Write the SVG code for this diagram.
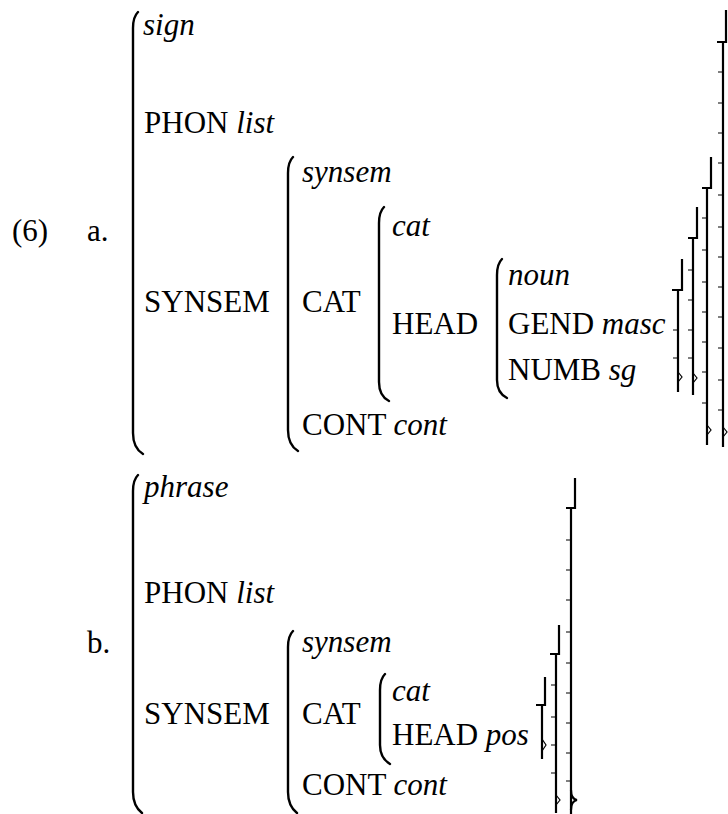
<svg xmlns="http://www.w3.org/2000/svg" width="728" height="814" viewBox="0 0 728 814">
<style>
text{font-family:"Liberation Serif","Times New Roman",serif;font-size:31px;fill:#000}
.i{font-style:italic}
.lb{fill:none;stroke:#000;stroke-width:2.4;stroke-linecap:round}
.rb{fill:none;stroke:#000;stroke-width:2.2}
.tk{fill:none;stroke:#000;stroke-width:1.2}
</style>
<rect width="728" height="814" fill="#fff"/>
<g id="labels">
<text x="12" y="241">(6)</text>
<text x="87" y="241">a.</text>
<text x="87" y="653">b.</text>
</g>
<g id="avm-a">
<path class="lb" d="M138,12 Q133,17 133,28 V433 Q133,448 143,454"/>
<text x="143" y="35" class="i">sign</text>
<text x="144" y="133">PHON <tspan class="i">list</tspan></text>
<text x="144" y="312">SYNSEM</text>
<g id="a-synsem">
<path class="lb" d="M293,157 Q288,162 288,173 V430 Q288,445 298,451"/>
<text x="302" y="182" class="i">synsem</text>
<text x="302" y="312">CAT</text>
<text x="302" y="435">CONT <tspan class="i">cont</tspan></text>
</g>
<g id="a-cat">
<path class="lb" d="M384,207 Q379,212 379,223 V382 Q379,396 389,401"/>
<text x="392" y="236" class="i">cat</text>
<text x="392" y="334">HEAD</text>
</g>
<g id="a-noun">
<path class="lb" d="M502,259 Q497,264 497,275 V380 Q497,393 507,398"/>
<text x="508" y="285" class="i">noun</text>
<text x="508" y="334">GEND <tspan class="i">masc</tspan></text>
<text x="508" y="380">NUMB <tspan class="i">sg</tspan></text>
</g>
</g>
<g id="brackets-a">
<path class="rb" d="M682,259 V290 H672 M678,290 V392"/>
<path class="tk" d="M673,330 H678 M673,358 H678 M678,372 L682,377 L678,382"/>
<path class="rb" d="M697,207 V238 H688 M693,238 V395"/>
<path class="tk" d="M688,270 H693 M688,300 H693 M688,330 H693 M688,358 H693 M693,373 L697,378 L693,383"/>
<path class="rb" d="M711,157 V188 H702 M707,188 V445"/>
<path class="tk" d="M702,218 H707 M702,250 H707 M702,282 H707 M702,312 H707 M702,342 H707 M702,372 H707 M702,403 H707 M707,425 L711,430 L707,435"/>
<path class="rb" d="M726,10 V42 H717 M723,42 V447"/>
<path class="tk" d="M718,72 H723 M718,103 H723 M718,133 H723 M718,163 H723 M718,195 H723 M718,227 H723 M718,257 H723 M718,287 H723 M718,317 H723 M718,348 H723 M718,380 H723 M718,410 H723 M723,427 L727,432 L723,437"/>
</g>
<g id="avm-b">
<path class="lb" d="M138,475 Q133,480 133,491 V792 Q133,806 142,813"/>
<text x="144" y="497" class="i">phrase</text>
<text x="144" y="603">PHON <tspan class="i">list</tspan></text>
<text x="144" y="724">SYNSEM</text>
<g id="b-synsem">
<path class="lb" d="M293,631 Q288,636 288,647 V792 Q288,806 297,813"/>
<text x="302" y="652" class="i">synsem</text>
<text x="302" y="724">CAT</text>
<text x="302" y="795">CONT <tspan class="i">cont</tspan></text>
</g>
<g id="b-cat">
<path class="lb" d="M385,674 Q380,679 380,690 V745 Q380,758 390,764"/>
<text x="392" y="701" class="i">cat</text>
<text x="392" y="745">HEAD <tspan class="i">pos</tspan></text>
</g>
</g>
<g id="brackets-b">
<path class="rb" d="M545,677 V705 H536 M542,705 V759"/>
<path class="tk" d="M542,739 L546,745 L542,751"/>
<path class="rb" d="M559,625 V654 H550 M556,654 V813"/>
<path class="tk" d="M551,685 H556 M551,717 H556 M551,745 H556 M551,773 H556 M556,795 L560,800 L556,805"/>
<path class="rb" d="M575,478 V508 H566 M571,508 V814"/>
<path class="tk" d="M566,540 H571 M566,570 H571 M566,600 H571 M566,632 H571 M566,663 H571 M566,693 H571 M566,723 H571 M566,753 H571 M566,781 H571"/>
<path class="rb" d="M571,790 Q571,799 577,800 Q571,801 571,810"/>
</g>
</svg>
